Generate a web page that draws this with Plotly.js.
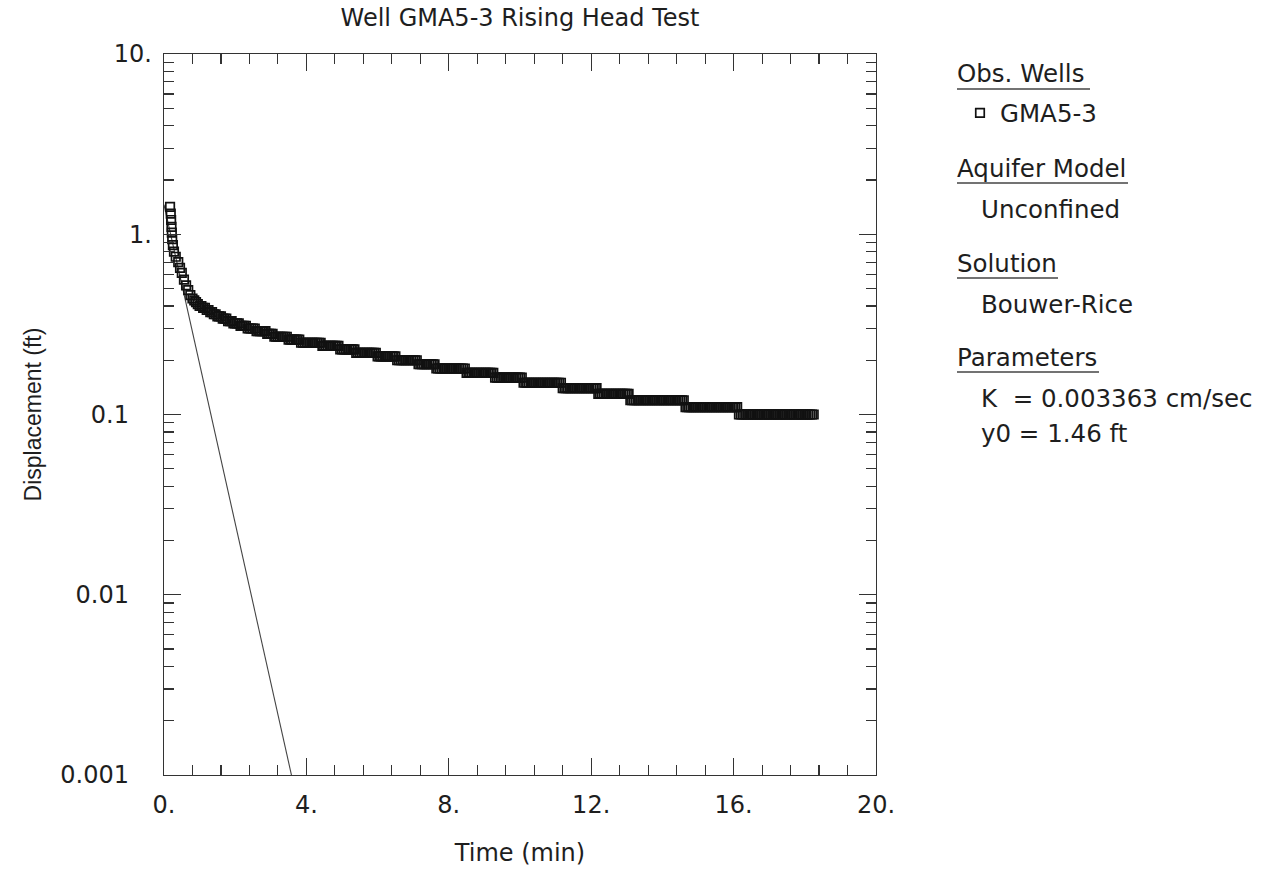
<!DOCTYPE html>
<html>
<head>
<meta charset="utf-8">
<script src="https://cdn.plot.ly/plotly-3.0.1.min.js"></script>
<style>html,body{margin:0;padding:0;background:#fff;}#chart{width:1270px;height:879px;}</style>
</head>
<body>
<div id="chart"></div>
<script>
// ---- data (time in min, displacement in ft) ----
const timeMin = [
  0.17,0.19,0.20,0.21,0.22,0.23,0.25,0.28,0.33,0.40,0.45,0.50,0.56,0.62,0.68,0.74,
  0.80,0.85,0.90,0.95,1.00,1.05,1.10,1.15,1.20,1.25,1.30,1.35,1.40,1.45,1.50,1.55,1.60,1.65,1.70,1.75,1.80,1.85,1.90,1.95,2.00,2.05,2.10,2.15,2.20,2.25,2.30,2.35,
  2.40,2.45,2.50,2.55,
  2.60,2.65,2.70,2.75,2.80,2.85,
  2.90,2.95,3.00,3.05,
  3.10,3.15,3.20,3.25,3.30,3.35,3.40,3.45,
  3.50,3.55,3.60,3.65,3.70,3.75,3.80,
  3.85,3.90,3.95,4.00,4.05,4.10,4.15,4.20,4.25,4.30,4.35,4.40,
  4.45,4.50,4.55,4.60,4.65,4.70,4.75,4.80,4.85,4.90,
  4.95,5.00,5.05,5.10,5.15,5.20,5.25,5.30,5.35,
  5.40,5.45,5.50,5.55,5.60,5.65,5.70,5.75,5.80,5.85,5.90,5.95,
  6.00,6.05,6.10,6.15,6.20,6.25,6.30,6.35,6.40,6.45,6.50,
  6.55,6.60,6.65,6.70,6.75,6.80,6.85,6.90,6.95,7.00,7.05,7.10,
  7.15,7.20,7.25,7.30,7.35,7.40,7.45,7.50,7.55,7.60,
  7.65,7.70,7.75,7.80,7.85,7.90,7.95,8.00,8.05,8.10,8.15,8.20,8.25,8.30,8.35,8.40,8.45,
  8.50,8.55,8.60,8.65,8.70,8.75,8.80,8.85,8.90,8.95,9.00,9.05,9.10,9.15,9.20,9.25,
  9.30,9.35,9.40,9.45,9.50,9.55,9.60,9.65,9.70,9.75,9.80,9.85,9.90,9.95,10.00,10.05,
  10.10,10.15,10.20,10.25,10.30,10.35,10.40,10.45,10.50,10.55,10.60,10.65,10.70,10.75,10.80,10.85,10.90,10.95,11.00,11.05,11.10,11.15,
  11.20,11.25,11.30,11.35,11.40,11.45,11.50,11.55,11.60,11.65,11.70,11.75,11.80,11.85,11.90,11.95,12.00,12.05,12.10,12.15,
  12.20,12.25,12.30,12.35,12.40,12.45,12.50,12.55,12.60,12.65,12.70,12.75,12.80,12.85,12.90,12.95,13.00,13.05,
  13.10,13.15,13.20,13.25,13.30,13.35,13.40,13.45,13.50,13.55,13.60,13.65,13.70,13.75,13.80,13.85,13.90,13.95,14.00,14.05,14.10,14.15,14.20,14.25,14.30,14.35,14.40,14.45,14.50,14.55,14.60,
  14.65,14.70,14.75,14.80,14.85,14.90,14.95,15.00,15.05,15.10,15.15,15.20,15.25,15.30,15.35,15.40,15.45,15.50,15.55,15.60,15.65,15.70,15.75,15.80,15.85,15.90,15.95,16.00,16.05,16.10,
  16.15,16.20,16.25,16.30,16.35,16.40,16.45,16.50,16.55,16.60,16.65,16.70,16.75,16.80,16.85,16.90,16.95,17.00,17.05,17.10,17.15,17.20,17.25,17.30,17.35,17.40,17.45,17.50,17.55,17.60,17.65,17.70,17.75,17.80,17.85,17.90,17.95,18.00,18.05,18.10,18.15,18.20,18.25
];
const displacementFt = [
  1.42,1.30,1.20,1.10,1.02,0.94,0.87,0.80,0.75,0.70,0.65,0.61,0.56,0.52,0.49,0.46,
  0.44,0.43,0.42,0.41,0.40,0.40,0.39,0.39,0.38,0.38,0.37,0.37,0.36,0.36,0.35,0.35,0.35,0.34,0.34,0.34,0.33,0.33,0.33,0.32,0.32,0.32,0.32,0.31,0.31,0.31,0.31,0.30,
  0.30,0.30,0.30,0.30,
  0.29,0.29,0.29,0.29,0.29,0.29,
  0.28,0.28,0.28,0.28,
  0.27,0.27,0.27,0.27,0.27,0.27,0.27,0.27,
  0.26,0.26,0.26,0.26,0.26,0.26,0.26,
  0.25,0.25,0.25,0.25,0.25,0.25,0.25,0.25,0.25,0.25,0.25,0.25,
  0.24,0.24,0.24,0.24,0.24,0.24,0.24,0.24,0.24,0.24,
  0.23,0.23,0.23,0.23,0.23,0.23,0.23,0.23,0.23,
  0.22,0.22,0.22,0.22,0.22,0.22,0.22,0.22,0.22,0.22,0.22,0.22,
  0.21,0.21,0.21,0.21,0.21,0.21,0.21,0.21,0.21,0.21,0.21,
  0.20,0.20,0.20,0.20,0.20,0.20,0.20,0.20,0.20,0.20,0.20,0.20,
  0.19,0.19,0.19,0.19,0.19,0.19,0.19,0.19,0.19,0.19,
  0.18,0.18,0.18,0.18,0.18,0.18,0.18,0.18,0.18,0.18,0.18,0.18,0.18,0.18,0.18,0.18,0.18,
  0.17,0.17,0.17,0.17,0.17,0.17,0.17,0.17,0.17,0.17,0.17,0.17,0.17,0.17,0.17,0.17,
  0.16,0.16,0.16,0.16,0.16,0.16,0.16,0.16,0.16,0.16,0.16,0.16,0.16,0.16,0.16,0.16,
  0.15,0.15,0.15,0.15,0.15,0.15,0.15,0.15,0.15,0.15,0.15,0.15,0.15,0.15,0.15,0.15,0.15,0.15,0.15,0.15,0.15,0.15,
  0.14,0.14,0.14,0.14,0.14,0.14,0.14,0.14,0.14,0.14,0.14,0.14,0.14,0.14,0.14,0.14,0.14,0.14,0.14,0.14,
  0.13,0.13,0.13,0.13,0.13,0.13,0.13,0.13,0.13,0.13,0.13,0.13,0.13,0.13,0.13,0.13,0.13,0.13,
  0.12,0.12,0.12,0.12,0.12,0.12,0.12,0.12,0.12,0.12,0.12,0.12,0.12,0.12,0.12,0.12,0.12,0.12,0.12,0.12,0.12,0.12,0.12,0.12,0.12,0.12,0.12,0.12,0.12,0.12,0.12,
  0.11,0.11,0.11,0.11,0.11,0.11,0.11,0.11,0.11,0.11,0.11,0.11,0.11,0.11,0.11,0.11,0.11,0.11,0.11,0.11,0.11,0.11,0.11,0.11,0.11,0.11,0.11,0.11,0.11,0.11,
  0.10,0.10,0.10,0.10,0.10,0.10,0.10,0.10,0.10,0.10,0.10,0.10,0.10,0.10,0.10,0.10,0.10,0.10,0.10,0.10,0.10,0.10,0.10,0.10,0.10,0.10,0.10,0.10,0.10,0.10,0.10,0.10,0.10,0.10,0.10,0.10,0.10,0.10,0.10,0.10,0.10,0.10,0.10
];
// Bouwer-Rice fitted straight line (from y0 down to 0.001 ft)
const fitTime = [0, 3.58];
const fitDisp = [1.46, 0.001];

const xTickVals = [0, 4, 8, 12, 16, 20];
const xTickText = ['0.', '4.', '8.', '12.', '16.', '20.'];
const yTickVals = [0.001, 0.01, 0.1, 1, 10];
const yTickText = ['0.001\u00a0\u00a0\u00a0', '0.01\u00a0\u00a0\u00a0', '0.1\u00a0\u00a0\u00a0', '1.', '10.'];

const infoTitles = ['Obs. Wells', 'Aquifer Model', 'Solution', 'Parameters'];
const infoLines = ['Unconfined', 'Bouwer-Rice', 'K\u00a0 = 0.003363 cm/sec', 'y0 = 1.46 ft'];
const wellName = 'GMA5-3';
const chartTitle = 'Well GMA5-3 Rising Head Test';

// ---- layout helpers (pixel -> paper) ----
const L = 164, R = 876, T = 54, B = 775, W = 1270, H = 879;
const px = v => (v - L) / (R - L);
const py = v => (B - v) / (B - T);
const WIDE = 'DejaVu Sans, Verdana, sans-serif';
const NARROW = 'Liberation Sans, Arial, sans-serif';
const FS = 24;
const PFS = 24.5;
const INK = '#1e1e1e';

const traces = [
  {
    x: fitTime, y: fitDisp, mode: 'lines', type: 'scatter',
    line: {color: '#444', width: 1.1}, showlegend: false, hoverinfo: 'skip'
  },
  {
    x: timeMin, y: displacementFt, mode: 'markers', type: 'scatter', name: wellName,
    marker: {symbol: 'square-open', size: 8.5, color: '#111', line: {width: 1.7, color: '#111'}}
  }
];

const titleY = [72, 167, 262, 356];
const titleEnd = [1090, 1128, 1058, 1099];
const underY = [89, 183, 278, 372];
const lineY = [208, 303, 397, 432];

const annotations = [];
infoTitles.forEach((t, i) => annotations.push({
  text: t, xref: 'paper', yref: 'paper', x: px(955), y: py(titleY[i] + 1),
  xanchor: 'left', yanchor: 'middle', showarrow: false, font: {family: WIDE, size: PFS, color: INK}
}));
infoLines.forEach((t, i) => annotations.push({
  text: t, xref: 'paper', yref: 'paper', x: px(979), y: py(lineY[i] + 1),
  xanchor: 'left', yanchor: 'middle', showarrow: false, font: {family: WIDE, size: PFS, color: INK}
}));

const shapes = infoTitles.map((t, i) => ({
  type: 'line', xref: 'paper', yref: 'paper',
  x0: px(957), x1: px(titleEnd[i]), y0: py(underY[i]), y1: py(underY[i]),
  line: {color: '#444', width: 1.6}
}));

const axisCommon = {
  showline: true, linecolor: '#333', linewidth: 1.3, mirror: 'ticks',
  ticks: 'inside', ticklen: 17, tickwidth: 1.3, tickcolor: '#333',
  showgrid: false, zeroline: false, tickmode: 'array',
  tickfont: {family: WIDE, size: FS, color: INK}
};

const layout = {
  width: W, height: H,
  margin: {l: L, r: W - R, t: T, b: H - B, pad: 0},
  paper_bgcolor: '#fff', plot_bgcolor: '#fff',
  font: {family: WIDE, size: FS, color: INK},
  title: {text: chartTitle, x: 0.5, xref: 'paper', y: 1 - 18 / H, yref: 'container', yanchor: 'middle',
          font: {family: WIDE, size: FS, color: INK}},
  xaxis: Object.assign({}, axisCommon, {
    range: [0, 20], tickvals: xTickVals, ticktext: xTickText, ticklabelstandoff: 8,
    minor: {ticks: 'inside', ticklen: 10, tickwidth: 1.1, tickcolor: '#333', dtick: 0.8, tick0: 0, showgrid: false},
    title: {text: 'Time (min)', standoff: 26, font: {family: WIDE, size: FS, color: INK}}
  }),
  yaxis: Object.assign({}, axisCommon, {
    type: 'log', range: [-3, 1], tickvals: yTickVals, ticktext: yTickText, ticklabelstandoff: 6,
    minor: {ticks: 'inside', ticklen: 10, tickwidth: 1.1, tickcolor: '#333', dtick: 'D1', showgrid: false},
    title: {text: 'Displacement (ft)', standoff: 12, font: {family: NARROW, size: 23, color: INK}}
  }),
  showlegend: true,
  legend: {x: px(960), y: py(113), xanchor: 'left', yanchor: 'middle', xref: 'paper', yref: 'paper',
           bgcolor: 'rgba(0,0,0,0)', borderwidth: 0, font: {family: WIDE, size: PFS, color: INK}},
  annotations: annotations,
  shapes: shapes
};

Plotly.newPlot('chart', traces, layout, {displayModeBar: false, staticPlot: true});
</script>
</body>
</html>
